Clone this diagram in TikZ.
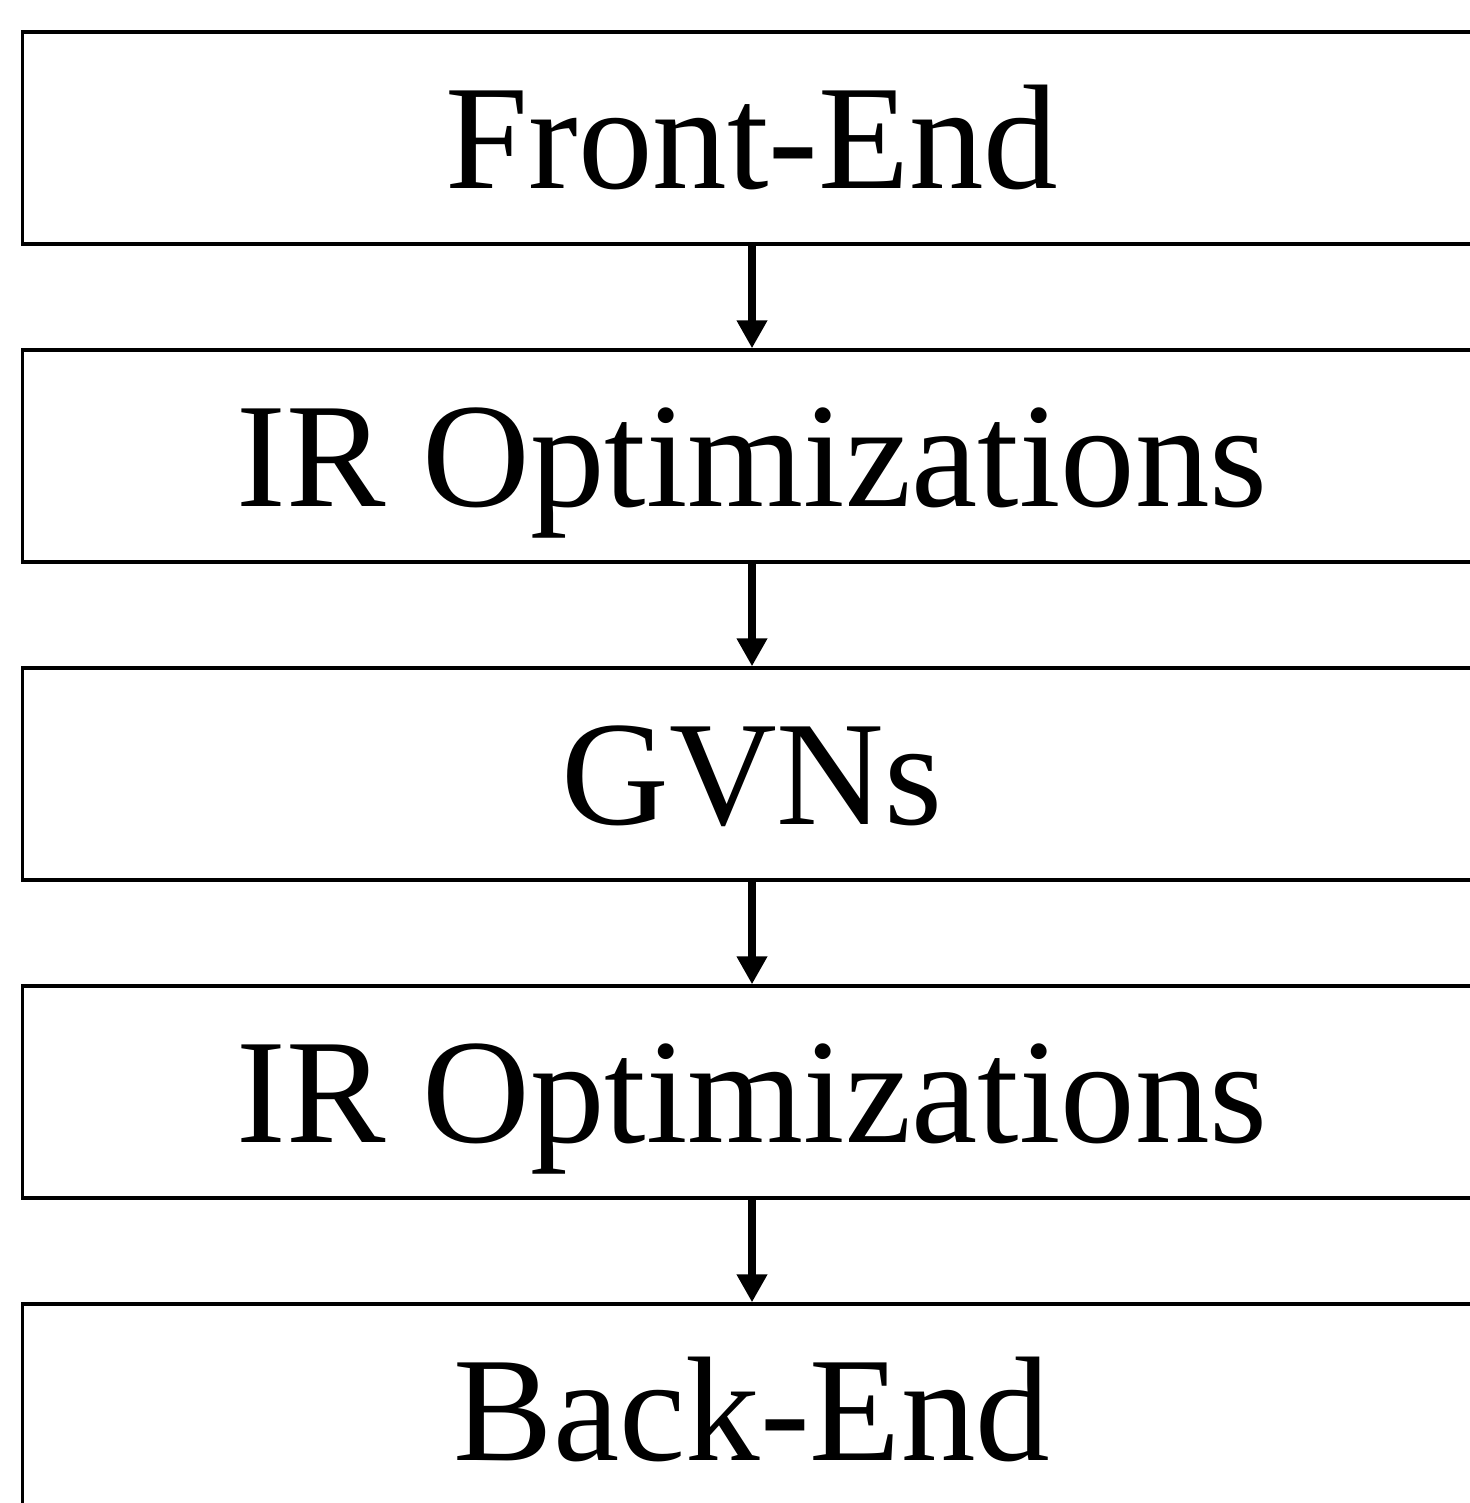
\documentclass[tikz,border=0pt]{standalone}
\usepackage{fontspec}
\setmainfont{Liberation Serif}
\usetikzlibrary{arrows.meta}
\begin{document}
\begin{tikzpicture}[x=0.01cm,y=-0.01cm,
  stagebox/.style={draw=black, line width=0.032cm, minimum width=14.58cm, minimum height=2.12cm,
    inner sep=0pt, font=\fontsize{42.4pt}{50pt}\selectfont, text height=1cm, text depth=0pt},
  flowarrow/.style={line width=0.075cm, -{Triangle[width=0.29cm,length=0.28cm]}}]
\useasboundingbox (0,0) rectangle (1470,1503);
\clip (0,0) rectangle (1470,1503);
\node[stagebox] (fe) at (752,138) {Front-End};
\node[stagebox] (ir1) at (752,456) {IR Optimizations};
\node[stagebox] (gvn) at (752,774) {GVNs};
\node[stagebox] (ir2) at (752,1092) {IR Optimizations};
\node[stagebox] (be) at (752,1410) {Back-End};
\draw[flowarrow] (fe.south) -- (ir1.north);
\draw[flowarrow] (ir1.south) -- (gvn.north);
\draw[flowarrow] (gvn.south) -- (ir2.north);
\draw[flowarrow] (ir2.south) -- (be.north);
\end{tikzpicture}
\end{document}
